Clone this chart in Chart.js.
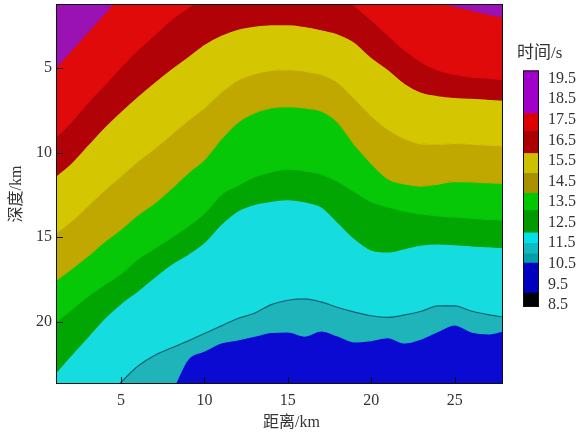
<!DOCTYPE html>
<html>
<head>
<meta charset="utf-8">
<script src="https://cdn.jsdelivr.net/npm/chart.js@4.4.1/dist/chart.umd.min.js"></script>
<style>
  html, body { margin: 0; padding: 0; background: #fff; }
  #wrap { position: relative; width: 578px; height: 436px; overflow: hidden; }
  #main { position: absolute; left: 0; top: 0; }
  #bar { position: absolute; left: 494px; top: 40px; }
</style>
</head>
<body>
<div id="wrap">
  <canvas id="main" width="578" height="436"></canvas>
  <canvas id="bar" width="84" height="280"></canvas>
</div>
<script>
// 距离 (km)
const distance = [1, 2, 3, 4, 5, 6, 7, 8, 9, 10, 11, 12, 13, 14, 15, 16, 17, 18, 19, 20, 21, 22, 23, 24, 25, 26, 27, 28];

// 各色带分界线的深度 (km)，自上而下
const depthPurpleRed = [5.06, 3.96, 2.87, 1.78, 0.68, 0, 0, 0, 0, 0, 0, 0, 0, 0, 0, 0, 0, 0, 0, 0, 0, 0, 0.6, 1.09, 1.33, 1.56, 1.8, 2.0];
const depthRedDark = [9.21, 8.20, 7.07, 6.01, 4.94, 3.93, 3.04, 2.15, 1.44, 0.85, 0.5, 0.3, 0.3, 0.3, 0.3, 0.3, 0.3, 0.6, 1.32, 2.15, 3.04, 3.93, 4.64, 5.12, 5.36, 5.53, 5.59, 5.71];
const depthRedYellow = [11.46, 10.63, 9.56, 8.50, 7.55, 6.66, 5.83, 5.05, 4.32, 3.58, 3.05, 2.69, 2.51, 2.42, 2.42, 2.53, 2.72, 2.97, 3.46, 4.35, 5.06, 5.89, 6.42, 6.62, 6.73, 6.77, 6.84, 6.90];
const depthYellowOlive = [14.85, 14.08, 13.17, 12.23, 11.39, 10.53, 9.77, 8.95, 8.12, 7.34, 6.43, 5.72, 5.34, 5.13, 5.09, 5.18, 5.37, 5.85, 6.80, 7.80, 8.62, 9.17, 9.48, 9.50, 9.46, 9.50, 9.56, 9.61];
const depthOliveGreen = [17.63, 16.91, 16.13, 15.28, 14.54, 13.70, 13.00, 12.14, 11.22, 10.41, 9.20, 8.20, 7.65, 7.35, 7.28, 7.35, 7.53, 8.20, 9.53, 10.63, 11.54, 11.86, 11.98, 11.86, 11.70, 11.73, 11.78, 11.82];
const depthGreenDark = [20.12, 19.32, 18.52, 17.83, 17.18, 16.30, 15.68, 15.04, 14.37, 13.60, 12.49, 11.95, 11.44, 11.14, 10.98, 11.08, 11.27, 11.71, 12.32, 12.91, 13.21, 13.46, 13.63, 13.74, 13.81, 13.88, 13.95, 14.01];
const depthGreenCyan = [23.14, 22.01, 20.92, 19.82, 18.93, 18.19, 17.38, 16.62, 16.03, 15.31, 14.25, 13.45, 13.06, 12.88, 12.78, 12.91, 13.21, 14.12, 15.09, 15.76, 15.88, 15.68, 15.47, 15.40, 15.45, 15.52, 15.57, 15.62];
const depthCyanTeal = [27.5, 26.8, 25.8, 24.7, 23.6, 22.65, 22.01, 21.57, 21.16, 20.71, 20.26, 19.82, 19.51, 19.00, 18.74, 18.66, 18.84, 19.17, 19.44, 19.66, 19.75, 19.61, 19.39, 19.08, 19.07, 19.38, 19.59, 19.76];
const depthTealBlue = [28, 28, 28, 27.5, 27, 26.5, 25.5, 24.2, 22.25, 21.75, 21.27, 21.09, 20.87, 20.65, 20.62, 20.86, 20.56, 20.86, 21.21, 21.13, 20.96, 21.27, 21.03, 20.59, 20.20, 20.61, 20.73, 20.53];

// 坐标轴刻度
const xTicks = [5, 10, 15, 20, 25];
const yTicks = [5, 10, 15, 20];

// 色标 (时间/s)
const cbTicks = [8.5, 9.5, 10.5, 11.5, 12.5, 13.5, 14.5, 15.5, 16.5, 17.5, 18.5, 19.5];
const cbRanges = [[8.4, 9.08], [9.08, 10.53], [10.53, 11.0], [11.0, 11.5], [11.5, 12.0], [12.0, 13.1], [13.1, 13.93], [13.93, 14.9], [14.9, 15.86], [15.86, 16.98], [16.98, 17.8], [17.8, 19.9]];
const cbColors = ['#000000', '#0000c0', '#00a0a8', '#10b8c0', '#00e0e8', '#009a00', '#00c800', '#a89000', '#ccc000', '#aa0000', '#dd0000', '#a000c8'];

const C = {
  purple: '#9a12b4', red: '#e00a0a', darkRed: '#b10208', yellow: '#d4c600', olive: '#c0a800',
  green: '#06c806', darkGreen: '#02a602', cyan: '#14dcdf', teal: '#1fb3ba', blue: '#0a0ad2'
};

function band(depths, color, fill, line) {
  return {
    data: distance.map((x, i) => ({ x: x, y: depths[i] })),
    backgroundColor: color,
    borderColor: line || color,
    borderWidth: 1.2,
    fill: fill,
    pointRadius: 0,
    cubicInterpolationMode: 'monotone'
  };
}

const datasets = [
  band(depthPurpleRed, C.purple, { value: 0 }),
  band(depthRedDark, C.red, '-1'),
  band(depthRedYellow, C.darkRed, '-1'),
  band(depthYellowOlive, C.yellow, '-1'),
  band(depthOliveGreen, C.olive, '-1'),
  band(depthGreenDark, C.green, '-1'),
  band(depthGreenCyan, C.darkGreen, '-1'),
  band(depthCyanTeal, C.cyan, '-1', 'rgba(0,70,80,0.7)'),
  band(depthTealBlue, C.teal, '-1')
];

// 外框、内向刻度、底色
const framePlugin = {
  id: 'frame',
  beforeDraw(chart) {
    const { ctx, chartArea: a } = chart;
    ctx.save();
    ctx.fillStyle = C.blue;
    ctx.fillRect(a.left, a.top, a.width, a.height);
    ctx.restore();
  },
  afterDatasetsDraw(chart) {
    const { ctx, chartArea: a, scales: { x, y } } = chart;
    ctx.save();
    ctx.strokeStyle = '#111';
    ctx.lineWidth = 1;
    ctx.strokeRect(a.left + 0.5, a.top + 0.5, a.width - 1, a.height - 1);
    ctx.beginPath();
    xTicks.forEach(v => {
      const px = Math.round(x.getPixelForValue(v)) + 0.5;
      ctx.moveTo(px, a.bottom);
      ctx.lineTo(px, a.bottom - 7);
    });
    yTicks.forEach(v => {
      const py = Math.round(y.getPixelForValue(v)) + 0.5;
      ctx.moveTo(a.left, py);
      ctx.lineTo(a.left + 7, py);
    });
    ctx.stroke();
    ctx.restore();
  }
};

// 去掉刻度标签造成的额外留白
function noPad(s) {
  s.paddingTop = 0; s.paddingBottom = 0; s.paddingLeft = 0; s.paddingRight = 0;
}

const tickFont = { family: "'Liberation Serif', 'Noto Sans CJK SC'", size: 16 };
const textColor = '#333';

new Chart(document.getElementById('main'), {
  type: 'line',
  data: { datasets: datasets },
  options: {
    responsive: false,
    animation: false,
    devicePixelRatio: 1,
    layout: { padding: { left: 0, top: 4, right: 75, bottom: 0 } },
    plugins: { legend: { display: false }, tooltip: { enabled: false } },
    scales: {
      x: {
        type: 'linear', min: 1.1, max: 27.9,
        grid: { display: false, drawTicks: false }, border: { display: false },
        afterBuildTicks: s => { s.ticks = xTicks.map(v => ({ value: v })); },
        afterFit: s => { s.height = 52; noPad(s); },
        ticks: { font: tickFont, color: textColor, padding: 7, maxRotation: 0, autoSkip: false, callback: v => String(v) },
        title: { display: true, text: '\u2002\u2002\u2002距离/km', font: tickFont, color: textColor, padding: { top: 0, bottom: 4 } }
      },
      y: {
        type: 'linear', reverse: true, min: 1.2, max: 23.7,
        grid: { display: false, drawTicks: false }, border: { display: false },
        afterBuildTicks: s => { s.ticks = yTicks.map(v => ({ value: v })); },
        afterFit: s => { s.width = 56; noPad(s); },
        ticks: { font: tickFont, color: textColor, padding: 4, autoSkip: false, callback: v => String(v) },
        title: { display: true, text: '深度/km', font: tickFont, color: textColor, padding: { top: 7, bottom: 0 } }
      }
    }
  },
  plugins: [framePlugin]
});

// 色标
const cbFrame = {
  id: 'cbFrame',
  afterDatasetsDraw(chart) {
    const { ctx, chartArea: a } = chart;
    ctx.save();
    ctx.strokeStyle = '#111';
    ctx.lineWidth = 1;
    ctx.strokeRect(a.left + 0.5, a.top + 0.5, a.width - 1, a.height - 1);
    ctx.restore();
  }
};

new Chart(document.getElementById('bar'), {
  type: 'bar',
  data: {
    labels: [''],
    datasets: cbRanges.map((r, i) => ({
      data: [r], backgroundColor: cbColors[i], borderWidth: 0,
      grouped: false, barPercentage: 1, categoryPercentage: 1
    }))
  },
  options: {
    responsive: false,
    animation: false,
    devicePixelRatio: 1,
    layout: { padding: { left: 23, right: 0, top: 0, bottom: 13 } },
    plugins: {
      legend: { display: false },
      tooltip: { enabled: false },
      title: {
        display: true, text: '时间/s', align: 'start', color: textColor,
        font: { family: "'Liberation Serif', 'Noto Sans CJK SC'", size: 17, weight: 'normal' },
        padding: { top: 3, bottom: 7 }
      }
    },
    scales: {
      x: { display: false },
      y: {
        position: 'right', min: 8.4, max: 19.9,
        grid: { display: false, drawTicks: false }, border: { display: false },
        afterBuildTicks: s => { s.ticks = cbTicks.map(v => ({ value: v })); },
        afterFit: s => { s.width = 39; noPad(s); },
        ticks: { font: tickFont, color: textColor, padding: 9, autoSkip: false, callback: v => v.toFixed(1) }
      },
      yl: {
        type: 'linear', position: 'left', min: 0, max: 1,
        grid: { display: false, drawTicks: false }, border: { display: false },
        ticks: { display: false },
        afterFit: s => { s.width = 6; noPad(s); }
      }
    }
  },
  plugins: [cbFrame]
});
</script>
</body>
</html>
